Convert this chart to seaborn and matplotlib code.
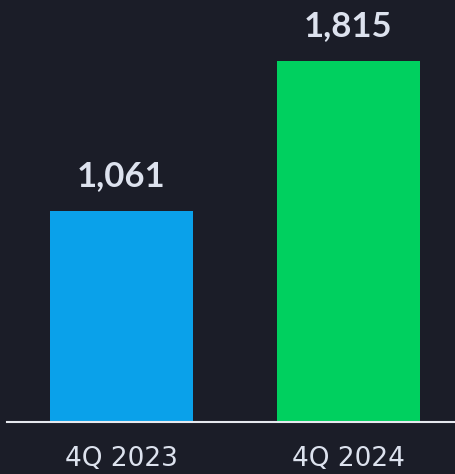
import matplotlib
matplotlib.use("Agg")
import matplotlib.pyplot as plt
import seaborn as sns
import pandas as pd

quarters = ["4Q 2023", "4Q 2024"]
values = [1061, 1815]
bar_colors = ["#0aa1ea", "#00d05f"]

bg = "#1b1d28"
text_color = "#dde2ee"

sns.set_theme(style="white")
plt.rcParams["font.family"] = ["Lato", "DejaVu Sans"]

df = pd.DataFrame({"quarter": quarters, "value": values})

fig = plt.figure(figsize=(4.56, 4.74), dpi=100, facecolor=bg)
ax = fig.add_axes([7 / 456, 52 / 474, 449 / 456, 422 / 474])
ax.set_facecolor(bg)

sns.barplot(data=df, x="quarter", y="value", hue="quarter",
            palette=bar_colors, width=0.63, legend=False, ax=ax,
            saturation=1, linewidth=0, edgecolor="none")

ax.set_xlim(-0.504, 1.474)
ax.set_ylim(0, 2121)

for i, v in enumerate(values):
    ax.annotate(f"{v:,}", xy=(i, v), xytext=(0, 18), textcoords="offset points",
                ha="center", va="baseline", fontsize=25, fontweight="bold",
                color=text_color)

for s in ["top", "right", "left"]:
    ax.spines[s].set_visible(False)
ax.spines["bottom"].set_color("#e6e8ee")
ax.spines["bottom"].set_linewidth(1.5)

ax.set_yticks([])
ax.set_xlabel("")
ax.set_ylabel("")
ax.tick_params(axis="x", length=0, pad=17, labelsize=19, labelcolor=text_color)
for lbl in ax.get_xticklabels():
    lbl.set_family("DejaVu Sans")
    lbl.set_fontweight("normal")

fig.savefig("out.png", dpi=100, facecolor=bg)
